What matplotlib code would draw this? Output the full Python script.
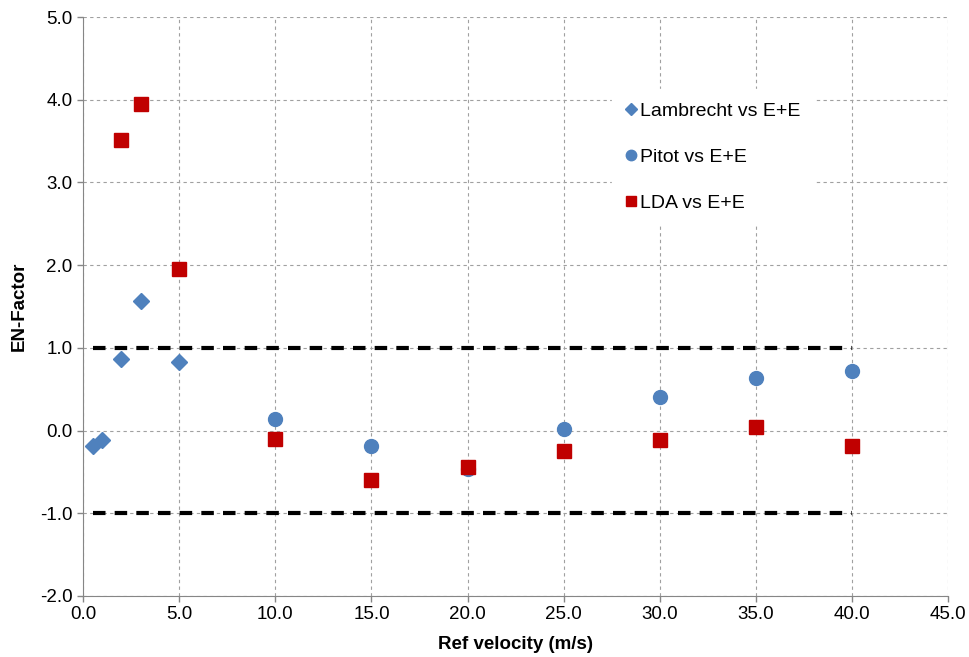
import numpy as np
from matplotlib import pyplot as plt
from matplotlib.lines import Line2D

# --------- DATA ---------
lambrecht_x = [0.5, 1, 2, 3, 5]
lambrecht_y = [-0.19, -0.11, 0.87, 1.57, 0.83]

pitot_x = [10, 15, 20, 25, 30, 35, 40]
pitot_y = [0.14, -0.19, -0.47, 0.02, 0.40, 0.63, 0.72]

lda_x = [2, 3, 5, 10, 15, 20, 25, 30, 35, 40]
lda_y = [3.51, 3.95, 1.95, -0.10, -0.60, -0.44, -0.25, -0.11, 0.04, -0.19]

limit_x = [0.5, 40]
upper_limit = [1.0, 1.0]
lower_limit = [-1.0, -1.0]

x_ticks = np.arange(0, 45.1, 5)
y_ticks = np.arange(-2, 5.1, 1)
# ------------------------

BLUE = '#4F81BD'
RED = '#C00000'

plt.rcParams['font.family'] = ['Liberation Sans', 'DejaVu Sans']

fig = plt.figure(figsize=(9.70, 6.57), dpi=100)
ax = fig.add_axes([0.0856, 0.093, 0.892, 0.881])

# Limit lines at +/- 1
ax.plot(limit_x, upper_limit, color='black', lw=3, ls=(0, (3, 2.2)), zorder=2)
ax.plot(limit_x, lower_limit, color='black', lw=3, ls=(0, (3, 2.2)), zorder=2)

ax.plot(lambrecht_x, lambrecht_y, 'D', color=BLUE, ms=8.5, ls='none', zorder=3)
ax.plot(pitot_x, pitot_y, 'o', color=BLUE, ms=10, ls='none', zorder=3)
ax.plot(lda_x, lda_y, 's', color=RED, ms=10, ls='none', zorder=4)

ax.set_xlim(0, 45)
ax.set_ylim(-2, 5)
ax.set_xticks(x_ticks)
ax.set_yticks(y_ticks)
ax.set_xticklabels(["{0:.1f}".format(v) for v in x_ticks])
ax.set_yticklabels(["{0:.1f}".format(v) for v in y_ticks])
ax.tick_params(labelsize=13.5, color='#868686', length=4, width=1)

ax.grid(True, color='#A0A0A0', ls=(0, (3, 3)), lw=0.8)
ax.set_axisbelow(True)
for side in ('top', 'right'):
    ax.spines[side].set_visible(False)
for side in ('left', 'bottom'):
    ax.spines[side].set_color('#868686')

ax.set_xlabel("Ref velocity (m/s)", fontsize=13.5, fontweight='bold', labelpad=9)
ax.set_ylabel("EN-Factor", fontsize=13.5, fontweight='bold', labelpad=9)

handles = [
    Line2D([], [], marker='D', color=BLUE, ls='none', ms=6.5),
    Line2D([], [], marker='o', color=BLUE, ls='none', ms=7.5),
    Line2D([], [], marker='s', color=RED, ls='none', ms=7.5),
]
labels = ["Lambrecht vs E+E", "Pitot vs E+E", "LDA vs E+E"]
leg = ax.legend(handles, labels, loc='upper left', bbox_to_anchor=(0.6, 0.893),
                fontsize=14, frameon=True, fancybox=False, labelspacing=1.45,
                handlelength=0.6, handletextpad=0.15, borderpad=0.7)
leg.get_frame().set_edgecolor('white')
leg.get_frame().set_facecolor('white')
leg.get_frame().set_alpha(1)

fig.savefig("out.png", dpi=100)
